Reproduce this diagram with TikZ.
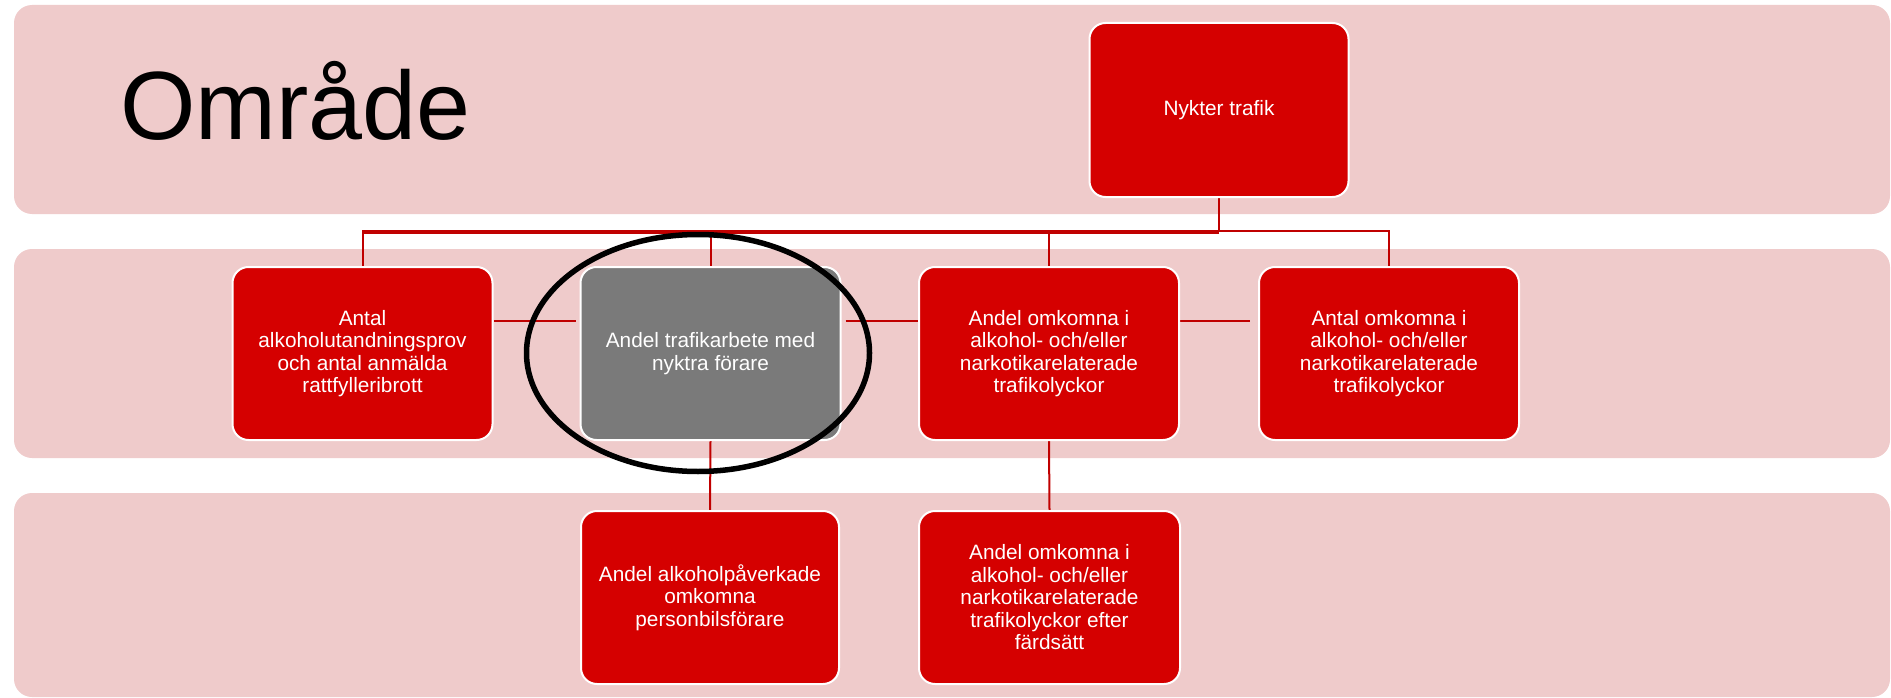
\documentclass[tikz,border=0pt]{standalone}
\usepackage{fontspec}
\setmainfont{Liberation Sans}
\usetikzlibrary{shapes.geometric}
\definecolor{bandpink}{HTML}{EFCBCB}
\definecolor{boxred}{HTML}{D50000}
\definecolor{boxgray}{HTML}{7A7A7A}
\definecolor{linered}{HTML}{C00000}
\pgfdeclarelayer{bg}
\pgfdeclarelayer{lines}
\pgfdeclarelayer{top}
\pgfsetlayers{bg,lines,main,top}
\begin{document}
\begin{tikzpicture}[x=1pt,y=-1pt,
  bandrow/.style={fill=bandpink, rounded corners=18pt},
  box/.style={draw=white, line width=2pt, rounded corners=16pt, fill=boxred,
    text=white, font=\fontsize{20.8}{22.5}\selectfont, align=center,
    minimum width=260pt, minimum height=173pt, inner sep=0pt},
  graybox/.style={box, fill=boxgray},
  conn/.style={draw=linered, line width=2pt}]
\useasboundingbox (0,0) rectangle (1891,698);
\clip (0,0) rectangle (1891,698);
% bands
\begin{pgfonlayer}{bg}
\fill[bandrow] (14,5) rectangle (1890,214);
\fill[bandrow] (14,249) rectangle (1890,458);
\fill[bandrow] (14,493) rectangle (1890,697);
\end{pgfonlayer}
% title
\node[anchor=base west, inner sep=0pt, font=\fontsize{97}{100}\selectfont] (title) at (120,140) {Område};
% nodes
\node[box, minimum width=259pt, minimum height=174pt] (T) at (1219,110) {Nykter trafik};
\node[box] (A) at (362.5,353.5) {Antal\\alkoholutandningsprov\\och antal anmälda\\rattfylleribrott};
\node[graybox] (B) at (710.5,353.5) {Andel trafikarbete med\\nyktra förare};
\node[box] (C) at (1049,353.5) {Andel omkomna i\\alkohol- och/eller\\narkotikarelaterade\\trafikolyckor};
\node[box] (D) at (1389,353.5) {Antal omkomna i\\alkohol- och/eller\\narkotikarelaterade\\trafikolyckor};
\node[box, minimum width=258pt] (E) at (710,597.5) {Andel alkoholpåverkade\\omkomna\\personbilsförare};
\node[box, minimum width=261pt] (F) at (1049.5,597.5) {Andel omkomna i\\alkohol- och/eller\\narkotikarelaterade\\trafikolyckor efter\\färdsätt};
% connectors
\coordinate (bar) at (0,231);
\coordinate (hl) at (0,321);
\begin{pgfonlayer}{lines}
\draw[conn] (T.south) -- (T.south |- bar) -| (A.north);
\draw[conn] (T.south) -- (T.south |- bar) -| (B.north);
\draw[conn] (T.south) -- (T.south |- bar) -| (C.north);
\draw[conn] (T.south) -- (T.south |- bar) -| (D.north);
\draw[conn] ([yshift=-1.5pt]T.south |- bar) -| (A.north);
\draw[conn] (A.east |- hl) -- ([xshift=-4pt]B.west |- hl);
\draw[conn] ([xshift=4pt]B.east |- hl) -- (C.west |- hl);
\draw[conn] (C.east |- hl) -- ([xshift=-8pt]D.west |- hl);
\draw[conn] (B.south) -- (E.north);
\draw[conn] (C.south) -- (F.north);
\end{pgfonlayer}
% highlight ring
\begin{pgfonlayer}{top}
\node[ellipse, draw=black, line width=5.5pt, minimum width=343pt, minimum height=237pt, inner sep=0pt] (ring) at (698,353) {};
\end{pgfonlayer}
\end{tikzpicture}
\end{document}
